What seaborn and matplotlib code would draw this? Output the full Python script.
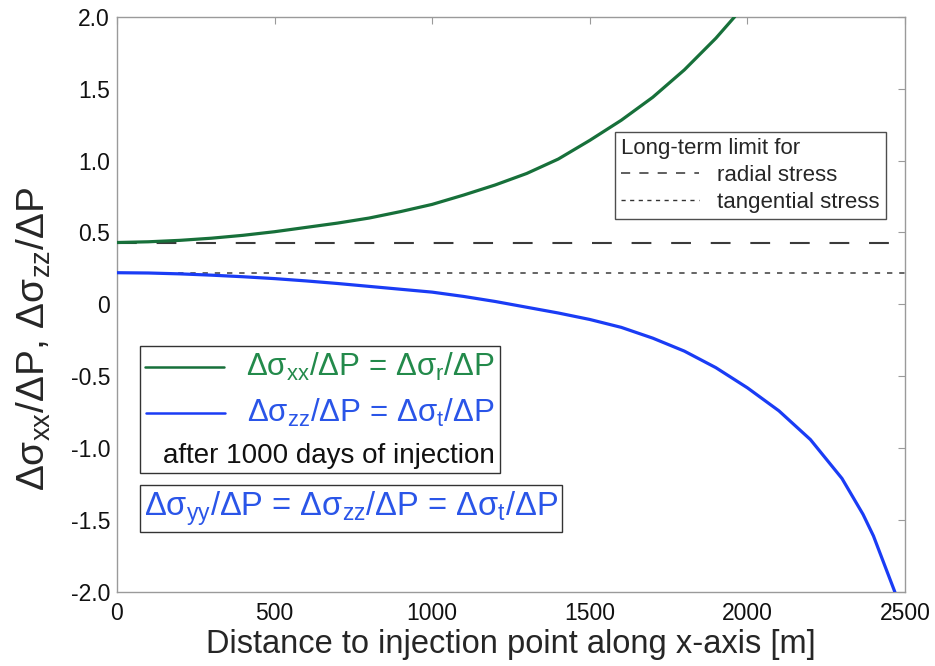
import matplotlib
matplotlib.use("Agg")
import matplotlib.pyplot as plt
import seaborn as sns
import pandas as pd
from matplotlib.lines import Line2D
from matplotlib.offsetbox import (AnchoredOffsetbox, DrawingArea, HPacker,
                                  TextArea, VPacker)

# Stress-change ratios along the x-axis after 1000 days of injection
dist_radial = [0, 100, 200, 300, 400, 500, 600, 700, 800, 900, 1000, 1100,
               1200, 1300, 1400, 1500, 1600, 1700, 1800, 1900, 1960]
stress_radial = [0.43, 0.435, 0.445, 0.46, 0.48, 0.505, 0.535, 0.565, 0.60,
                 0.645, 0.695, 0.76, 0.83, 0.91, 1.01, 1.14, 1.28, 1.44,
                 1.63, 1.85, 2.0]

dist_tangential = [0, 100, 200, 300, 400, 500, 600, 700, 800, 900, 1000, 1100,
                   1200, 1300, 1400, 1500, 1600, 1700, 1800, 1900, 2000, 2100,
                   2200, 2300, 2367, 2400, 2468]
stress_tangential = [0.22, 0.218, 0.212, 0.203, 0.192, 0.179, 0.163, 0.145,
                     0.125, 0.105, 0.085, 0.055, 0.02, -0.02, -0.06, -0.105,
                     -0.16, -0.235, -0.325, -0.44, -0.58, -0.74, -0.94, -1.21,
                     -1.46, -1.61, -2.0]

# Long-term limits
limit_radial = 0.43
limit_tangential = 0.22

x_ticks = [0, 500, 1000, 1500, 2000, 2500]
x_tick_labels = ["0", "500", "1000", "1500", "2000", "2500"]
y_ticks = [2.0, 1.5, 1.0, 0.5, 0.0, -0.5, -1.0, -1.5, -2.0]
y_tick_labels = ["2.0", "1.5", "1.0", "0.5", "0", "-0.5", "-1.0", "-1.5", "-2.0"]

GREEN_LINE = "#17703a"
GREEN_TEXT = "#238a4b"
BLUE_LINE = "#1a3cf5"
BLUE_TEXT = "#2a55e8"
FRAME = "#9a9a9a"

sns.set_style("white")
plt.rcParams["font.family"] = ["Liberation Sans", "DejaVu Sans"]

fig = plt.figure(figsize=(9.35, 6.66), dpi=100)
ax = fig.add_axes([0.1251, 0.111, 0.8428, 0.864])

df_r = pd.DataFrame({"x": dist_radial, "y": stress_radial})
df_t = pd.DataFrame({"x": dist_tangential, "y": stress_tangential})

ax.axhline(limit_radial, color="#3a3a3a", lw=1.5, dashes=(9.5, 9.5), zorder=1)
ax.axhline(limit_tangential, color="#3a3a3a", lw=1.1, dashes=(3.5, 4.5), zorder=1)

sns.lineplot(data=df_r, x="x", y="y", ax=ax, color=GREEN_LINE, lw=2.3,
             sort=False, estimator=None, zorder=3)
sns.lineplot(data=df_t, x="x", y="y", ax=ax, color=BLUE_LINE, lw=2.3,
             sort=False, estimator=None, zorder=3)

ax.set_xlim(0, 2500)
ax.set_ylim(-2.0, 2.0)

ax.set_xticks(x_ticks)
ax.set_xticklabels(x_tick_labels, fontsize=16.5)
ax.set_yticks(y_ticks)
ax.set_yticklabels(y_tick_labels, fontsize=16.5)
ax.tick_params(direction="in", length=5, width=0.8, color=FRAME,
               top=True, right=True, labelcolor="#111111")
ax.tick_params(axis="y", pad=5)
ax.tick_params(axis="x", pad=7)
for s in ax.spines.values():
    s.set_color(FRAME)
    s.set_linewidth(1.0)

ax.set_xlabel("Distance to injection point along x-axis [m]", fontsize=23.5,
              labelpad=3)
ax.set_ylabel(r"Δσ$_\mathregular{xx}$/ΔP, Δσ$_\mathregular{zz}$/ΔP",
              fontsize=28)
ax.yaxis.set_label_coords(-0.081, 0.44)

# Legend for the long-term limits
lim_handles = [Line2D([], [], color="#333333", lw=1.1, dashes=(6, 6)),
               Line2D([], [], color="#333333", lw=1.0, dashes=(3, 3.2))]
leg = ax.legend(lim_handles, ["radial stress", "tangential stress"],
                title="Long-term limit for", loc="upper right",
                bbox_to_anchor=(0.976, 0.8), frameon=True, fancybox=False,
                handlelength=3.5, handletextpad=0.8, labelspacing=0.25,
                borderpad=0.3, borderaxespad=0, prop={"size": 16})
leg.get_title().set_fontsize(16)
leg._legend_box.align = "left"
leg.get_frame().set_edgecolor("#222222")
leg.get_frame().set_linewidth(1.0)


# Curve key box
def key_row(color, text_color, label):
    da = DrawingArea(57, 14, 0, 0)
    da.add_artist(Line2D([0, 57], [7, 7], color=color, lw=1.8))
    ta = TextArea(label, textprops=dict(color=text_color, fontsize=22.5))
    return HPacker(children=[da, ta], align="center", pad=0, sep=16)


rows = [
    key_row(GREEN_LINE, GREEN_TEXT,
            r"Δσ$_\mathregular{xx}$/ΔP = Δσ$_\mathregular{r}$/ΔP"),
    key_row(BLUE_LINE, BLUE_TEXT,
            r"Δσ$_\mathregular{zz}$/ΔP = Δσ$_\mathregular{t}$/ΔP"),
    TextArea("after 1000 days of injection",
             textprops=dict(color="#111111", fontsize=20)),
]
key_box = VPacker(children=rows, align="right", pad=0, sep=10)
anch = AnchoredOffsetbox(loc="upper left", child=key_box, pad=0.35,
                         borderpad=0, frameon=True,
                         bbox_to_anchor=(0.029, 0.428),
                         bbox_transform=ax.transAxes)
anch.patch.set_edgecolor("#333333")
anch.patch.set_linewidth(1.0)
anch.patch.set_boxstyle("square", pad=0)
ax.add_artist(anch)

# Equality of the tangential components
eq_box = TextArea(
    r"Δσ$_\mathregular{yy}$/ΔP = Δσ$_\mathregular{zz}$/ΔP = Δσ$_\mathregular{t}$/ΔP",
    textprops=dict(color=BLUE_TEXT, fontsize=23.5))
anch2 = AnchoredOffsetbox(loc="upper left", child=eq_box, pad=0.3,
                          borderpad=0, frameon=True,
                          bbox_to_anchor=(0.029, 0.186),
                          bbox_transform=ax.transAxes)
anch2.patch.set_edgecolor("#333333")
anch2.patch.set_linewidth(1.0)
anch2.patch.set_boxstyle("square", pad=0)
ax.add_artist(anch2)

fig.savefig("out.png", dpi=100, facecolor="white")
